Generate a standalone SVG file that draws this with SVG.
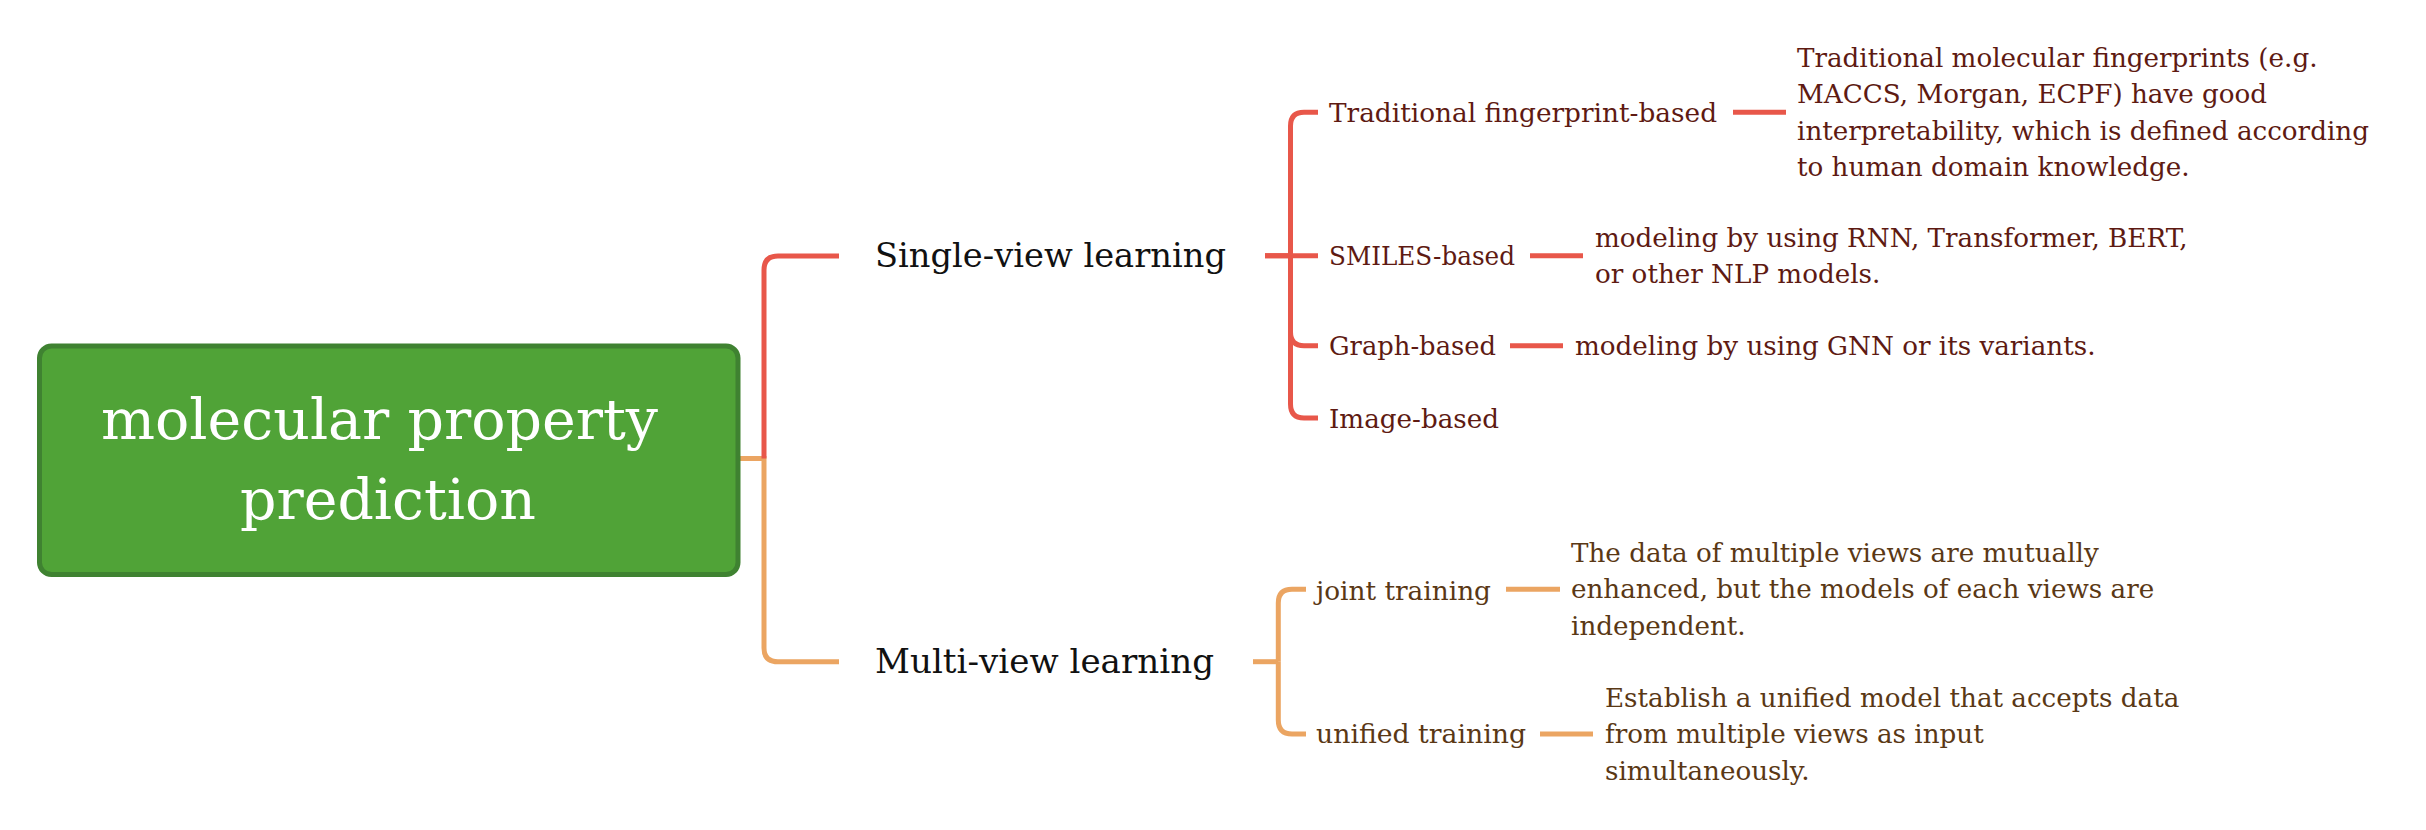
<svg xmlns="http://www.w3.org/2000/svg" width="2426" height="830" viewBox="0 0 2426 830">
<style>
.t{font-family:"DejaVu Serif","Liberation Serif",serif}
.root{font-size:56px;fill:#ffffff}
.l1{font-size:34px;fill:#111111}
.rt{font-size:26.2px;fill:#5e1a12}
.ot{font-size:26.2px;fill:#5a3815}
.red{fill:none;stroke:#e8574a;stroke-width:5}
.org{fill:none;stroke:#eba562;stroke-width:5}
</style>
<rect width="2426" height="830" fill="#ffffff"/>
<g id="connectors">
<path class="org" d="M740 458.5 H764 V648 Q764 661.7 778 661.7 H839"/>
<path class="red" d="M764 458.5 V270 Q764 256 778 256 H839"/>
<path class="red" d="M1265 255.7 H1318"/>
<path class="red" d="M1265 255.7 H1290.5 V126 Q1290.5 112.3 1304 112.3 H1318"/>
<path class="red" d="M1290.5 255.7 V332 Q1290.5 345.7 1304 345.7 H1318"/>
<path class="red" d="M1290.5 255.7 V404 Q1290.5 418 1304 418 H1318"/>
<path class="red" d="M1733 112.3 H1786"/>
<path class="red" d="M1530 255.7 H1583"/>
<path class="red" d="M1510 345.7 H1563"/>
<path class="org" d="M1253 661.7 H1278.3"/>
<path class="org" d="M1278.3 661.7 V603 Q1278.3 589.3 1292 589.3 H1306"/>
<path class="org" d="M1278.3 661.7 V720 Q1278.3 734 1292 734 H1306"/>
<path class="org" d="M1506 589.3 H1560"/>
<path class="org" d="M1540 734 H1593"/>
</g>
<g id="root">
<rect x="39.5" y="346" width="698.5" height="228.5" rx="12" fill="#50a337" stroke="#3f8231" stroke-width="5"/>
<text class="t root" x="101" y="439.3" textLength="557" lengthAdjust="spacingAndGlyphs">molecular property</text>
<text class="t root" x="240" y="519.3" textLength="296" lengthAdjust="spacingAndGlyphs">prediction</text>
</g>
<g id="single-view">
<text class="t l1" x="875" y="266.7" textLength="351" lengthAdjust="spacingAndGlyphs">Single-view learning</text>
</g>
<g id="multi-view">
<text class="t l1" x="875" y="673.3" textLength="339" lengthAdjust="spacingAndGlyphs">Multi-view learning</text>
</g>
<g id="traditional">
<text class="t rt" x="1329" y="121.7" textLength="388" lengthAdjust="spacingAndGlyphs">Traditional fingerprint-based</text>
</g>
<g id="traditional-detail">
<text class="t rt" x="1797" y="66.7">Traditional molecular fingerprints (e.g.</text>
<text class="t rt" x="1797" y="102.7">MACCS, Morgan, ECPF) have good</text>
<text class="t rt" x="1797" y="140">interpretability, which is defined according</text>
<text class="t rt" x="1797" y="176">to human domain knowledge.</text>
</g>
<g id="smiles">
<text class="t rt" x="1329" y="265" textLength="186" lengthAdjust="spacingAndGlyphs">SMILES-based</text>
</g>
<g id="smiles-detail">
<text class="t rt" x="1595" y="246.7">modeling by using RNN, Transformer, BERT,</text>
<text class="t rt" x="1595" y="282.7">or other NLP models.</text>
</g>
<g id="graph">
<text class="t rt" x="1329" y="355.3" textLength="167" lengthAdjust="spacingAndGlyphs">Graph-based</text>
</g>
<g id="graph-detail">
<text class="t rt" x="1575" y="355.3">modeling by using GNN or its variants.</text>
</g>
<g id="image">
<text class="t rt" x="1329" y="427.7">Image-based</text>
</g>
<g id="joint">
<text class="t ot" x="1316" y="600" textLength="175" lengthAdjust="spacingAndGlyphs">joint training</text>
</g>
<g id="joint-detail">
<text class="t ot" x="1571" y="561.6">The data of multiple views are mutually</text>
<text class="t ot" x="1571" y="598.3">enhanced, but the models of each views are</text>
<text class="t ot" x="1571" y="635">independent.</text>
</g>
<g id="unified">
<text class="t ot" x="1316" y="743.3" textLength="210" lengthAdjust="spacingAndGlyphs">unified training</text>
</g>
<g id="unified-detail">
<text class="t ot" x="1605" y="706.7">Establish a unified model that accepts data</text>
<text class="t ot" x="1605" y="743.3">from multiple views as input</text>
<text class="t ot" x="1605" y="780">simultaneously.</text>
</g>
</svg>
